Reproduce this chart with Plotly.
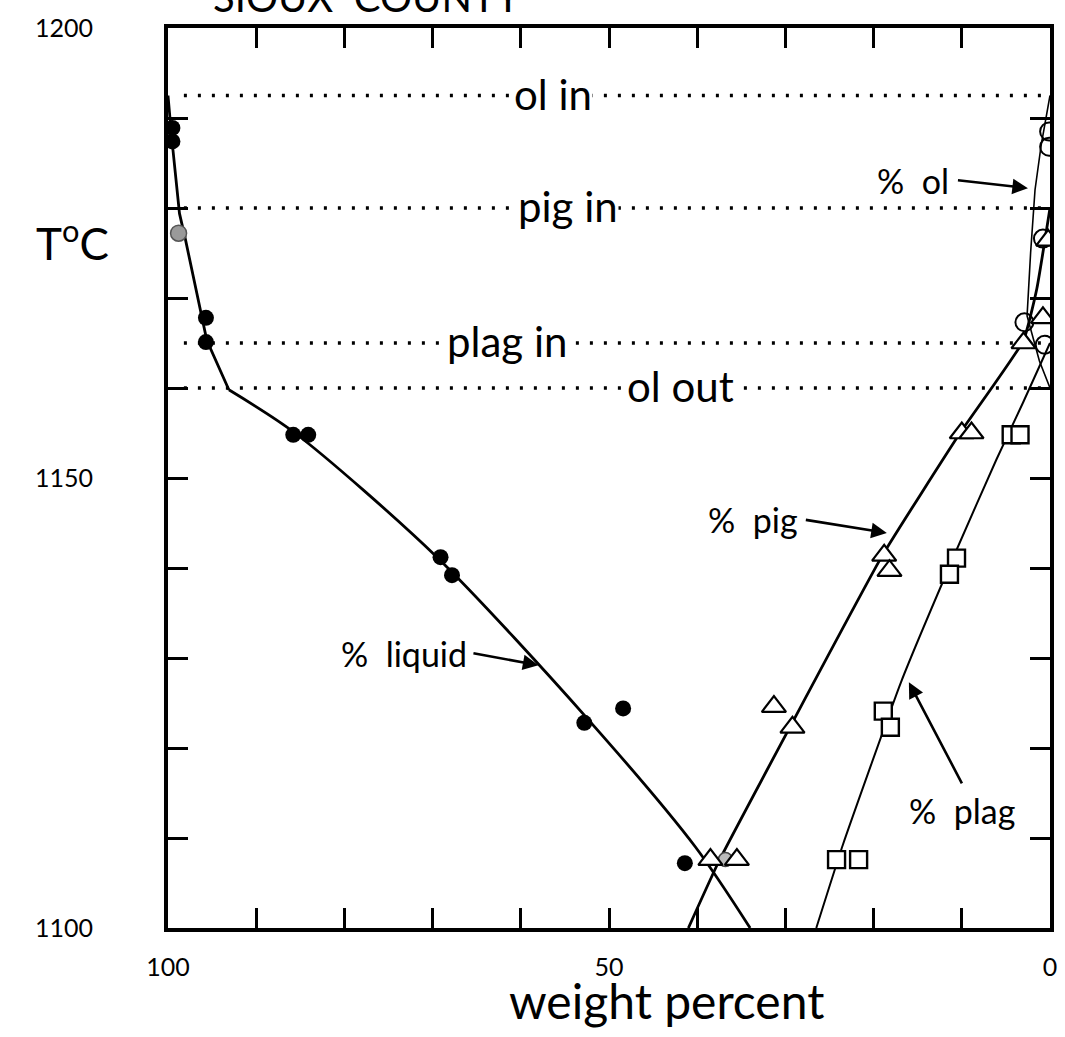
import plotly.graph_objects as go

# ---- phase-boundary temperatures (deg C) ----
ol_in_T = 1192.5
pig_in_T = 1180.0
plag_in_T = 1165.0
ol_out_T = 1160.0

# ---- measured modes: weight percent vs temperature ----
liquid_pct = [99.5, 99.5, 95.7, 95.7, 85.8, 84.1, 69.1, 67.8, 52.8, 48.4, 41.4]
liquid_T = [1188.9, 1187.4, 1167.8, 1165.1, 1154.8, 1154.8, 1141.2, 1139.2, 1122.8, 1124.4, 1107.2]
liquid_grey_pct = [98.8]
liquid_grey_T = [1177.2]

ol_pct = [0.1, 0.1, 0.8, 2.9, 0.6]
ol_T = [1188.5, 1186.8, 1176.6, 1167.3, 1164.8]
ol_grey_pct = [36.8]
ol_grey_T = [1107.6]

pig_pct = [0.2, 0.8, 3.0, 10.0, 8.9, 18.8, 18.2, 31.3, 29.2, 38.5, 35.5]
pig_T = [1176.4, 1167.8, 1165.0, 1155.0, 1155.0, 1141.4, 1139.7, 1124.6, 1122.3, 1107.6, 1107.6]

plag_pct = [4.4, 3.4, 10.6, 11.4, 18.9, 18.1, 24.2, 21.7]
plag_T = [1154.8, 1154.8, 1141.1, 1139.3, 1124.1, 1122.3, 1107.6, 1107.6]

# ---- hand-drawn trend curves ----
# liquid: straight segments above "ol out", smooth curve below it
liquid_upper_pct = [100, 99.6, 98.7, 98.0, 95.6, 93.1]
liquid_upper_T = [1192.5, 1188, 1179.4, 1176.4, 1165.3, 1159.8]
liquid_lower_pct = [93.1, 85.6, 69.5, 52.3, 40.2, 34.0]
liquid_lower_T = [1159.8, 1155.0, 1141.2, 1123.1, 1109.0, 1100]

ol_curve_pct = [0, 1.0, 1.7, 2.2, 2.6, 1.2, 0]
ol_curve_T = [1192.5, 1187, 1182, 1175, 1168, 1163, 1160]

pig_curve_pct = [0, 1.5, 3.0, 10.2, 19.0, 29.5, 37.5, 41.0]
pig_curve_T = [1180, 1171, 1165.3, 1155, 1141.4, 1122.3, 1107.5, 1100]

plag_curve_pct = [0, 3.0, 6.1, 10.6, 16.9, 23.5, 26.5]
plag_curve_T = [1165, 1158.5, 1152, 1142, 1127.3, 1109.2, 1100]

FONT = "Lato"
BLACK = "black"

fig = go.Figure()

# dotted phase-boundary lines
for T in [ol_in_T, pig_in_T, plag_in_T, ol_out_T]:
    fig.add_trace(go.Scatter(x=[98.2, 1], y=[T, T], mode="lines",
                             line=dict(color=BLACK, width=3.5, dash="3px,11px"),
                             hoverinfo="skip", showlegend=False))

# trend curves
fig.add_trace(go.Scatter(x=liquid_upper_pct, y=liquid_upper_T, mode="lines",
                         line=dict(color=BLACK, width=2.8), showlegend=False))
fig.add_trace(go.Scatter(x=liquid_lower_pct, y=liquid_lower_T, mode="lines",
                         line=dict(color=BLACK, width=2.8, shape="spline", smoothing=0.8),
                         showlegend=False))
fig.add_trace(go.Scatter(x=ol_curve_pct, y=ol_curve_T, mode="lines",
                         line=dict(color=BLACK, width=1.6), showlegend=False))
fig.add_trace(go.Scatter(x=pig_curve_pct, y=pig_curve_T, mode="lines",
                         line=dict(color=BLACK, width=2.8, shape="spline", smoothing=0.4),
                         showlegend=False))
fig.add_trace(go.Scatter(x=plag_curve_pct, y=plag_curve_T, mode="lines",
                         line=dict(color=BLACK, width=2.0, shape="spline", smoothing=0.4),
                         showlegend=False))

# data symbols
fig.add_trace(go.Scatter(x=liquid_pct, y=liquid_T, mode="markers",
                         marker=dict(symbol="circle", size=16, color=BLACK), showlegend=False))
fig.add_trace(go.Scatter(x=liquid_grey_pct, y=liquid_grey_T, mode="markers",
                         marker=dict(symbol="circle", size=16, color="#9a9a9a",
                                     line=dict(color="#555", width=1.5)), showlegend=False))
fig.add_trace(go.Scatter(x=ol_pct, y=ol_T, mode="markers",
                         marker=dict(symbol="circle-open", size=18, color=BLACK,
                                     line=dict(width=2)), showlegend=False))
fig.add_trace(go.Scatter(x=ol_grey_pct, y=ol_grey_T, mode="markers",
                         marker=dict(symbol="circle", size=14, color="#bbbbbb",
                                     line=dict(color="#444", width=1.5)), showlegend=False))
fig.add_trace(go.Scatter(x=pig_pct, y=pig_T, mode="markers",
                         marker=dict(symbol="triangle-up", size=21, color="white",
                                     line=dict(color=BLACK, width=2.2)), showlegend=False))
fig.add_trace(go.Scatter(x=plag_pct, y=plag_T, mode="markers",
                         marker=dict(symbol="square", size=17, color="white",
                                     line=dict(color=BLACK, width=2.4)), showlegend=False))

# labels sitting on the dotted lines
for text, xv, T in [("ol in", 56.3, ol_in_T), ("pig in", 54.6, pig_in_T),
                    ("plag in", 61.6, plag_in_T), ("ol out", 41.9, ol_out_T)]:
    fig.add_annotation(x=xv, y=T, xref="x", yref="y", text=text, showarrow=False,
                       font=dict(family=FONT, size=42, color=BLACK),
                       bgcolor="white", borderpad=0, yshift=2)

# curve labels with arrows: (text, head x, head T, tail dx, tail dy, anchors, pad)
for text, hx, hy, ax, ay, xa, ya, pad in [
    ("%  ol", 2.5, 1182.2, -70, -8, "right", "middle", 8),
    ("%  pig", 18.5, 1143.9, -81, -13, "right", "middle", 7),
    ("%  liquid", 58.0, 1129.2, -65, -12, "right", "middle", 5),
    ("%  plag", 16.0, 1127.3, 53, 101, "center", "top", 6),
]:
    fig.add_annotation(x=hx, y=hy, xref="x", yref="y", text=text, showarrow=True,
                       ax=ax, ay=ay, xanchor=xa, yanchor=ya, borderpad=pad,
                       arrowhead=2, arrowsize=1.2, arrowwidth=2.6,
                       arrowcolor=BLACK, standoff=0,
                       font=dict(family=FONT, size=34, color=BLACK))

# axis captions and the clipped heading
fig.add_annotation(x=-0.108, y=0.764, xref="paper", yref="paper",
                   text="T<sup>o</sup>C", showarrow=False, xanchor="center", yanchor="middle",
                   font=dict(family=FONT, size=44, color=BLACK))
fig.add_annotation(x=0.565, y=-0.08, xref="paper", yref="paper",
                   text="weight percent", showarrow=False, xanchor="center", yanchor="middle",
                   font=dict(family=FONT, size=48, color=BLACK))
fig.add_annotation(x=0.226, y=1.006, xref="paper", yref="paper",
                   text="SIOUX  COUNTY", showarrow=False, xanchor="center", yanchor="bottom",
                   font=dict(family=FONT, size=40, color=BLACK))

axis_common = dict(showline=True, linewidth=4, linecolor=BLACK, mirror="allticks",
                   ticks="inside", ticklen=20, tickwidth=3, tickcolor=BLACK,
                   showgrid=False, zeroline=False,
                   tickfont=dict(family=FONT, size=25, color=BLACK),
                   minor=dict(ticks="inside", ticklen=20, tickwidth=3, tickcolor=BLACK,
                              showgrid=False))

fig.update_xaxes(range=[100, 0], tickvals=[100, 50, 0], ticktext=["100", "50", "0"],
                 minor_dtick=10, minor_tick0=0, ticklabelstandoff=14,
                 **axis_common)
fig.update_yaxes(range=[1100, 1200], tickvals=[1100, 1150, 1200],
                 ticktext=["1100", "1150", "1200"],
                 minor_dtick=10, minor_tick0=1100, ticklabelstandoff=66,
                 **axis_common)

fig.update_layout(width=1065, height=1037,
                  margin=dict(l=168, r=8, t=28, b=109, pad=0),
                  plot_bgcolor="white", paper_bgcolor="white",
                  showlegend=False)

fig.write_html("out.html")
